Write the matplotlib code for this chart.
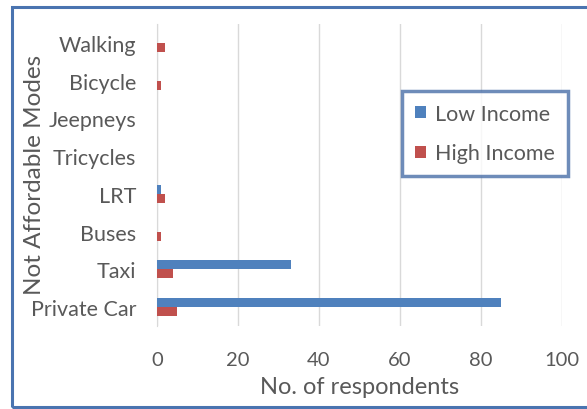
import matplotlib
matplotlib.use("Agg")
import matplotlib.pyplot as plt
from matplotlib.patches import Rectangle
import numpy as np

plt.rcParams['font.family'] = ['Lato', 'DejaVu Sans']

modes = ["Walking", "Bicycle", "Jeepneys", "Tricycles", "LRT", "Buses", "Taxi", "Private Car"]
low_income = [0, 0, 0, 0, 1, 0, 33, 85]
high_income = [2, 1, 0, 0, 2, 1, 4, 5]
x_ticks = [0, 20, 40, 60, 80, 100]

blue = "#4F81BD"
red = "#C0504D"
text_grey = "#595959"

fig = plt.figure(figsize=(5.87, 4.10), dpi=100)
W, H = 587, 410

# outer chart frame (open on the right side)
fig.patches.append(Rectangle((12 / W, (H - 408) / H), 2.0, (408 - 8) / H,
                             transform=fig.transFigure, fill=False,
                             edgecolor="#4a74b0", linewidth=2.2))

ax = fig.add_axes([157 / W, 1 - 327 / H, (562 - 157) / W, (327 - 25) / H])
AW, AH = 562 - 157, 327 - 25

y = np.arange(len(modes))
h = 0.24
ax.barh(y - h / 2, low_income, height=h, color=blue, label="Low Income", zorder=3)
ax.barh(y + h / 2, high_income, height=h, color=red, label="High Income", zorder=3)

ax.set_ylim(len(modes) - 0.5, -0.5)
ax.set_xlim(0, 100)
ax.set_xticks(x_ticks)
ax.set_yticks(y)
ax.set_yticklabels(modes)
ax.tick_params(axis='both', length=0, colors=text_grey)
ax.tick_params(axis='x', labelsize=14.5, pad=18)
ax.tick_params(axis='y', labelsize=15.5, pad=15)

ax.grid(axis='x', color="#d9d9d9", linewidth=1, zorder=0)
for s in ["top", "right", "bottom"]:
    ax.spines[s].set_visible(False)
ax.spines["left"].set_color("#d9d9d9")

ax.set_xlabel("No. of respondents", fontsize=17, color=text_grey)
ax.xaxis.set_label_coords((360 - 157) / AW, -(388 - 327) / AH)
ax.set_ylabel("Not Affordable Modes", fontsize=17.5, color=text_grey)
ax.yaxis.set_label_coords(-(157 - 35) / AW, 1 - (175 - 25) / AH)
ax.yaxis.label.set_verticalalignment("center")
ax.xaxis.label.set_verticalalignment("center")

leg = ax.legend(loc="upper left", bbox_to_anchor=((402 - 157) / AW, 1 - (92 - 25) / AH),
                frameon=True, fancybox=False, fontsize=15.5, handlelength=0.5,
                handleheight=0.5, labelspacing=0.9, borderpad=0.6, handletextpad=0.45,
                borderaxespad=0)
leg.get_frame().set_edgecolor("#4a6fa8")
leg.get_frame().set_linewidth(2.5)
for t in leg.get_texts():
    t.set_color(text_grey)

fig.savefig("out.png", dpi=100)
